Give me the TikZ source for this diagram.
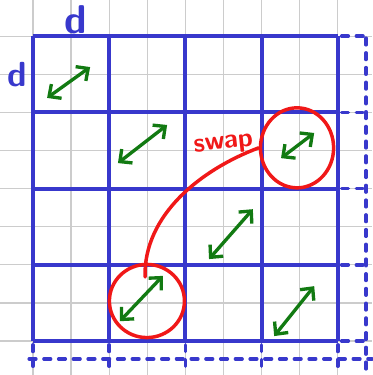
\documentclass[tikz,border=0pt]{standalone}
\usepackage{fontspec}
\usepackage{tikz}
\usetikzlibrary{positioning,arrows.meta,shapes.geometric}
\definecolor{penblue}{RGB}{56,56,204}
\definecolor{pengreen}{RGB}{18,122,18}
\definecolor{penred}{RGB}{240,24,24}

\begin{document}
\begin{tikzpicture}[
  paper/.style={draw=black!20, line width=1pt},
  board/.style={draw=penblue, line width=3pt},
  ext/.style={draw=penblue, line width=2.6pt, dash pattern=on 5pt off 6pt, line cap=round},
  flip/.style={draw=pengreen, line width=2.5pt, line cap=round, {Straight Barb[length=2.4mm,width=4.6mm]}-{Straight Barb[length=2.4mm,width=4.6mm]}},
  ring/.style={draw=penred, line width=2.6pt, ellipse, inner sep=0pt},
  scribble/.style={draw=penred, line width=2.6pt, line cap=round},
  lbl/.style={font=\sffamily\bfseries\fontsize{30}{32}\selectfont, text=penblue, inner sep=0pt}
]
\useasboundingbox (-0.866,-0.892) rectangle (8.898,8.95);
% squared paper
\draw[paper] (-0.866,-0.892) grid (8.898,8.95);
% the blocks
\draw[board] (0,0) grid[step=2] (8,8);
\node[lbl] (dtop) at (1.12,8.43) {d};
\node[lbl, font=\sffamily\bfseries\fontsize{26}{28}\selectfont] (dleft) at (-0.42,6.98) {d};
% dotted border of the padded matrix
\draw[ext] (8.74,7.95) -- (8.74,-0.89);
\draw[ext] (-0.1,-0.47) -- (8.9,-0.47);
\foreach \k in {0,2,4,6,8} {
  \draw[ext] (8.1,\k) -- (8.7,\k);
  \draw[ext] (\k,-0.1) -- (\k,-0.85);
}
% transposed blocks
\draw[flip] (0.37,6.38) -- (1.50,7.19);
\draw[flip] (2.23,4.67) -- (3.52,5.67);
\draw[flip] (6.51,4.80) -- (7.38,5.46);
\draw[flip] (4.62,2.15) -- (5.77,3.46);
\draw[flip] (2.28,0.52) -- (3.41,1.71);
\draw[flip] (6.33,0.13) -- (7.38,1.44);
% swapped pair
\node[ring, minimum width=1.92cm, minimum height=2.1cm] (upc) at (6.93,5.07) {};
\node[ring, minimum width=1.97cm, minimum height=1.92cm] (lowc) at (2.99,1.05) {};
\coordinate (tail) at (2.94,1.68);
\draw[scribble] (tail) .. controls (2.9,3.3) and (4.4,4.5) .. (upc.west);
\node[text=penred, font=\sffamily\bfseries\fontsize{20}{22}\selectfont, rotate=6, inner sep=0pt] (swp) at (5.0,5.14) {swap};
\end{tikzpicture}
\end{document}
